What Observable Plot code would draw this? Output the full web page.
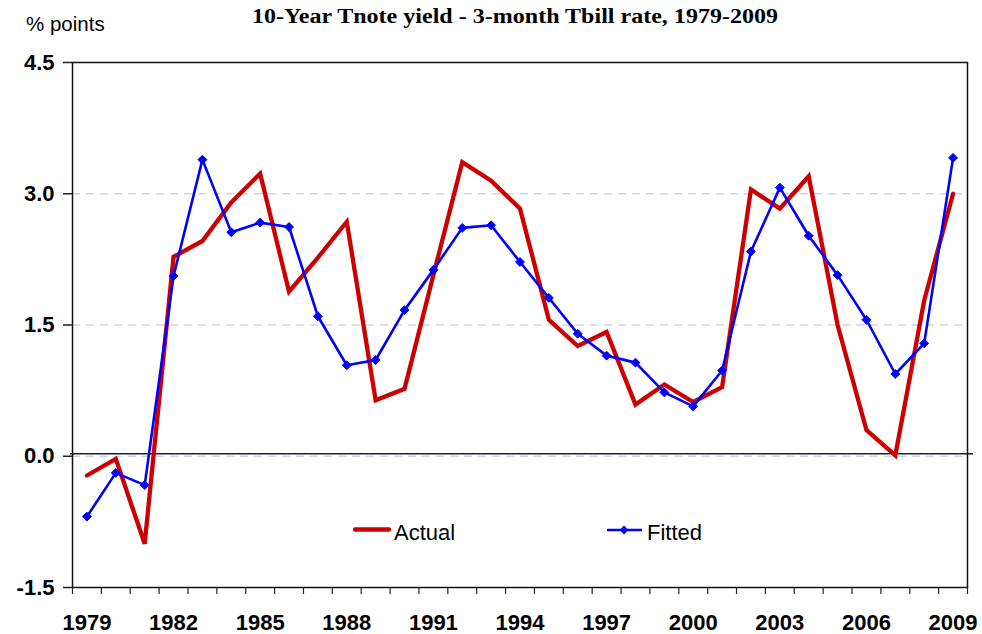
<!DOCTYPE html>
<html>
<head>
<meta charset="utf-8">
<script src="https://cdn.jsdelivr.net/npm/d3@7"></script>
<script src="https://cdn.jsdelivr.net/npm/@observablehq/plot@0.6"></script>
<style>
  body { margin: 0; background: #fff; }
  #wrap { position: relative; width: 982px; height: 634px; overflow: hidden; }
  #wrap > svg.overlay { position: absolute; left: 0; top: 0; pointer-events: none; }
</style>
</head>
<body>
<div id="wrap"></div>
<script>
const years = [1979,1980,1981,1982,1983,1984,1985,1986,1987,1988,1989,1990,1991,1992,1993,1994,1995,1996,1997,1998,1999,2000,2001,2002,2003,2004,2005,2006,2007,2008,2009];
const actual = [-0.22,-0.03,-1.00,2.28,2.46,2.90,3.23,1.88,2.27,2.68,0.64,0.77,2.07,3.36,3.15,2.83,1.56,1.26,1.42,0.59,0.82,0.62,0.79,3.05,2.83,3.20,1.50,0.30,0.01,1.78,3.00];
const fitted = [-0.69,-0.19,-0.33,2.06,3.39,2.56,2.67,2.62,1.60,1.04,1.10,1.67,2.13,2.61,2.64,2.22,1.81,1.40,1.15,1.07,0.73,0.57,0.98,2.34,3.07,2.52,2.07,1.56,0.94,1.29,3.41];
const yearLabels = [1979,1982,1985,1988,1991,1994,1997,2000,2003,2006,2009];
const yTicks = [-1.5,0,1.5,3,4.5];
const gridTicks = [0,1.5,3];
const title = "10-Year Tnote yield - 3-month Tbill rate, 1979-2009";
const yUnit = "% points";
const seriesNames = ["Actual","Fitted"];

const actualData = years.map((y,i)=>({year:y, value:actual[i]}));
const fittedData = years.map((y,i)=>({year:y, value:fitted[i]}));
const boundaries = years.map(y=>y-0.5).concat([years[years.length-1]+0.5]);

const RED = "#cc0000", BLUE = "#0000ff";
const FONT = "Liberation Sans, Arial, sans-serif";
const fmtY = d => d3.format(".1f")(d).replace("\u2212","-");

const chart = Plot.plot({
  width: 982,
  height: 634,
  marginLeft: 72,
  marginRight: 15,
  marginTop: 62,
  marginBottom: 47,
  style: {fontFamily: FONT, background: "#fff"},
  x: {domain: [years[0]-0.5, years[years.length-1]+0.5]},
  y: {domain: [-1.5, 4.5]},
  marks: [
    Plot.ruleY(gridTicks, {stroke: "#c9d7e6", strokeWidth: 1.5, strokeDasharray: "8,6"}),
    Plot.ruleY([0], {stroke: "#222", strokeWidth: 1.5, dy: -2.5, insetLeft: -2, insetRight: -6}),
    Plot.frame({stroke: "#111", strokeWidth: 1.5}),
    Plot.axisY({ticks: yTicks, tickSize: 9, tickPadding: 9, tickFormat: fmtY,
      fontSize: 22, fontWeight: "bold", fill: "#000", stroke: "#222", strokeWidth: 1.5, label: null}),
    Plot.axisX({ticks: boundaries, tickSize: 7, tickFormat: () => "", stroke: "#222", strokeWidth: 1.2, label: null}),
    Plot.axisX({ticks: yearLabels, tickSize: 0, tickPadding: 27, tickFormat: d => String(d),
      fontSize: 22, fontWeight: "bold", fill: "#000", label: null}),
    Plot.line(actualData, {x: "year", y: "value", stroke: RED, strokeWidth: 4.3, strokeLinejoin: "miter", strokeMiterlimit: 3}),
    Plot.line(fittedData, {x: "year", y: "value", stroke: BLUE, strokeWidth: 2.6}),
    Plot.dot(fittedData, {x: "year", y: "value", symbol: "diamond2", r: 4, fill: BLUE, stroke: BLUE, strokeWidth: 1})
  ]
});
document.getElementById("wrap").appendChild(chart);

// overlay: title, unit label, legend
const ov = d3.select("#wrap").append("svg").attr("class","overlay")
  .attr("width",982).attr("height",634);
ov.append("text").attr("x",252).attr("y",23)
  .attr("font-family","Liberation Serif, Times New Roman, serif").attr("font-weight","bold")
  .attr("font-size",20).attr("textLength",526).attr("lengthAdjust","spacingAndGlyphs").text(title);
ov.append("text").attr("x",26).attr("y",31).attr("font-family",FONT)
  .attr("font-size",20.5).text(yUnit);
// legend
const lg = ov.append("g").attr("font-family",FONT).attr("font-size",22);
lg.append("line").attr("x1",355).attr("x2",389).attr("y1",529.5).attr("y2",529.5)
  .attr("stroke",RED).attr("stroke-width",4.3).attr("stroke-linecap","round");
lg.append("text").attr("x",394).attr("y",539.5).text(seriesNames[0]);
lg.append("line").attr("x1",607).attr("x2",642).attr("y1",530).attr("y2",530)
  .attr("stroke",BLUE).attr("stroke-width",2.6);
lg.append("path").attr("d", d3.symbol(d3.symbolDiamond2, Math.PI*16)()).attr("transform","translate(624,530)")
  .attr("fill",BLUE);
lg.append("text").attr("x",647).attr("y",539.5).text(seriesNames[1]);
</script>
</body>
</html>
